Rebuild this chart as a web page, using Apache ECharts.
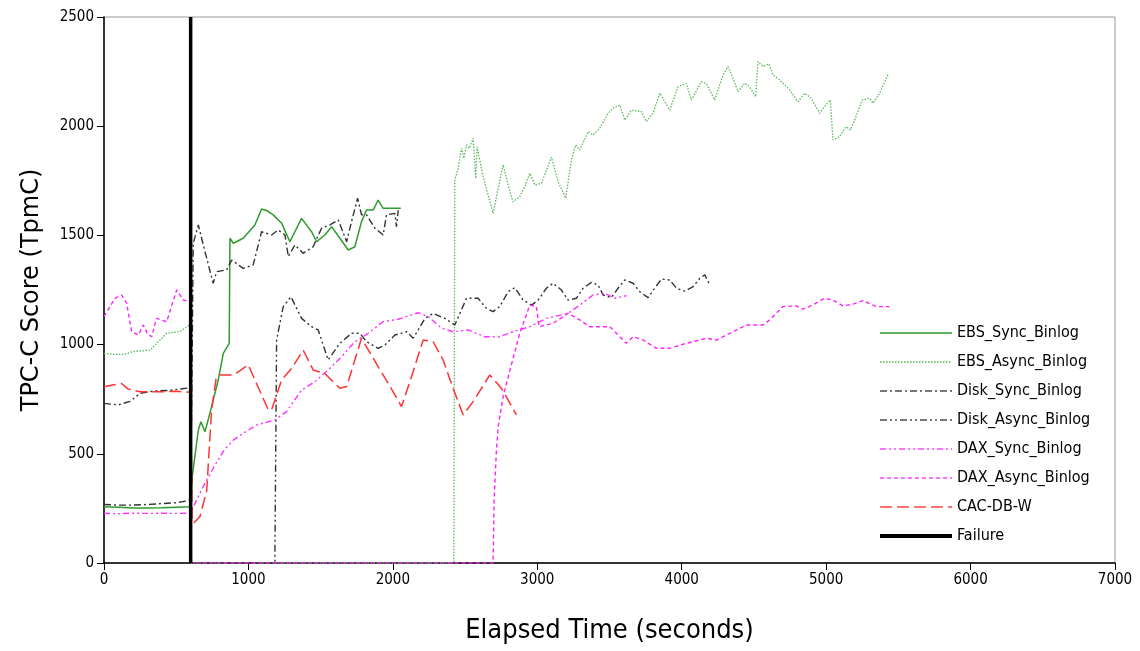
<!DOCTYPE html>
<html>
<head>
<meta charset="utf-8">
<script src="https://cdn.jsdelivr.net/npm/echarts@6/dist/echarts.min.js"></script>
<style>
html,body{margin:0;padding:0;background:#fff;}
#chart{width:1140px;height:651px;}
</style>
</head>
<body>
<div id="chart"></div>
<script>
const xTicks = [0, 1000, 2000, 3000, 4000, 5000, 6000, 7000];
const yTicks = [0, 500, 1000, 1500, 2000, 2500];
const seriesNames = ['EBS_Sync_Binlog','EBS_Async_Binlog','Disk_Sync_Binlog','Disk_Async_Binlog','DAX_Sync_Binlog','DAX_Async_Binlog','CAC-DB-W','Failure'];

const ebsSync = [[0,258],[100,255],[200,252],[300,252],[400,253],[500,255],[600,257],[611,395],[653,609],[671,647],[699,601],[733,685],[791,838],[826,960],[867,1006],[872,1487],[895,1464],[964,1487],[1045,1548],[1091,1621],[1125,1614],[1172,1594],[1230,1556],[1287,1471],[1368,1578],[1437,1517],[1472,1471],[1529,1502],[1576,1540],[1633,1487],[1691,1433],[1737,1448],[1783,1563],[1818,1616],[1864,1616],[1898,1662],[1933,1624],[1990,1624],[2055,1624]];

const ebsAsync = [[0,960],[70,955],[140,955],[200,968],[320,975],[434,1052],[526,1060],[595,1090],[605,0],[2422,0],[2429,1754],[2452,1807],[2475,1899],[2491,1853],[2510,1914],[2529,1899],[2556,1945],[2574,1761],[2583,1906],[2625,1769],[2694,1601],[2763,1823],[2798,1731],[2832,1654],[2879,1677],[2913,1723],[2948,1784],[2983,1731],[3029,1739],[3098,1858],[3144,1746],[3197,1670],[3236,1845],[3266,1914],[3294,1891],[3352,1975],[3386,1960],[3432,1990],[3490,2059],[3524,2082],[3571,2097],[3606,2028],[3652,2074],[3721,2067],[3756,2021],[3802,2059],[3848,2151],[3917,2074],[3975,2181],[4032,2196],[4067,2120],[4136,2204],[4171,2196],[4228,2120],[4286,2235],[4320,2273],[4355,2220],[4390,2158],[4436,2197],[4470,2181],[4512,2135],[4528,2296],[4563,2273],[4604,2285],[4632,2235],[4678,2212],[4747,2166],[4805,2112],[4851,2151],[4897,2128],[4955,2059],[4989,2090],[5029,2120],[5047,1937],[5093,1953],[5139,1998],[5167,1983],[5197,2028],[5250,2120],[5301,2128],[5324,2105],[5370,2151],[5428,2235]];

const diskSync = [[0,268],[100,265],[200,265],[300,268],[400,272],[500,276],[580,285],[600,290],[618,1464],[653,1548],[699,1426],[756,1281],[780,1334],[849,1342],[884,1387],[964,1349],[1033,1365],[1091,1517],[1160,1502],[1206,1525],[1253,1502],[1276,1403],[1322,1456],[1379,1418],[1448,1448],[1506,1533],[1564,1548],[1622,1571],[1680,1471],[1714,1563],[1756,1670],[1783,1594],[1818,1594],[1875,1533],[1933,1502],[1956,1594],[2014,1601],[2025,1540],[2037,1616]];

const diskAsync = [[0,731],[100,724],[180,740],[250,777],[350,788],[450,790],[580,801],[600,800],[605,0],[1183,0],[1195,1021],[1241,1174],[1294,1219],[1368,1120],[1437,1082],[1483,1067],[1552,930],[1633,1006],[1714,1052],[1772,1052],[1818,1013],[1898,983],[1945,998],[2014,1044],[2095,1059],[2141,1029],[2222,1120],[2279,1143],[2360,1120],[2429,1090],[2510,1212],[2590,1212],[2648,1166],[2694,1151],[2740,1174],[2798,1242],[2844,1261],[2902,1204],[2960,1181],[3006,1204],[3063,1258],[3109,1281],[3167,1250],[3213,1204],[3271,1212],[3317,1258],[3375,1285],[3421,1273],[3456,1227],[3513,1215],[3559,1258],[3606,1296],[3663,1281],[3710,1242],[3767,1215],[3813,1258],[3860,1300],[3918,1296],[3963,1258],[4021,1245],[4079,1265],[4125,1304],[4160,1319],[4194,1273]];

const daxSync = [[0,227],[100,226],[200,228],[300,227],[400,228],[500,227],[600,228],[630,273],[664,319],[711,380],[770,450],[837,522],[900,565],[964,594],[1057,632],[1183,655],[1264,693],[1368,792],[1460,830],[1552,884],[1645,945],[1737,1013],[1829,1052],[1933,1105],[2037,1116],[2175,1146],[2245,1128],[2337,1075],[2417,1059],[2521,1067],[2637,1036],[2740,1036],[2832,1059],[2948,1082],[3063,1120],[3213,1143],[3294,1181],[3386,1227],[3467,1235],[3536,1212],[3617,1224]];

const daxAsync = [[0,1128],[76,1212],[122,1227],[157,1189],[192,1059],[237,1044],[272,1090],[300,1050],[330,1036],[364,1120],[434,1105],[503,1250],[549,1204],[595,1196],[605,0],[2694,0],[2701,288],[2717,517],[2729,624],[2763,761],[2787,823],[2879,1053],[2948,1181],[2960,1185],[2994,1174],[3012,1082],[3109,1097],[3213,1143],[3294,1113],[3363,1082],[3502,1082],[3617,1006],[3663,1036],[3733,1021],[3825,983],[3917,983],[4032,1006],[4171,1029],[4240,1021],[4287,1036],[4447,1090],[4563,1090],[4609,1113],[4701,1174],[4793,1177],[4839,1162],[4909,1182],[4989,1212],[5047,1204],[5116,1177],[5186,1185],[5255,1201],[5347,1174],[5439,1174]];

const cacDbW = [[0,807],[60,815],[122,822],[166,797],[250,784],[400,784],[500,786],[600,782],[610,200],[620,182],[664,212],[711,330],[745,700],[775,840],[803,861],[895,861],[940,880],[999,907],[1137,701],[1160,701],[1230,838],[1299,891],[1379,975],[1448,884],[1529,868],[1633,800],[1680,808],[1783,1029],[1898,899],[1968,823],[2060,716],[2129,853],[2210,1021],[2279,1013],[2348,930],[2417,800],[2487,678],[2556,739],[2671,861],[2752,800],[2856,678]];

const failure = [[600,0],[600,2500]];

const chart = echarts.init(document.getElementById('chart'), null, {renderer:'canvas'});
const FONT = '"DejaVu Sans Condensed", "DejaVu Sans", sans-serif';

function mk(name, data, color, width, type, z) {
  return {
    name: name, type: 'line', data: data,
    symbol: 'none', showSymbol: false, smooth: false, z: z || 2,
    lineStyle: {color: color, width: width, type: type},
    itemStyle: {color: color},
    emphasis: {disabled: true}
  };
}

const legendLine = {
  'EBS_Sync_Binlog': {color: '#5fb05f', width: 2},
  'EBS_Async_Binlog': {color: '#7cc57c', width: 2},
  'Disk_Sync_Binlog': {color: '#777777', width: 2},
  'Disk_Async_Binlog': {color: '#777777', width: 2},
  'DAX_Sync_Binlog': {color: '#ff44ff', width: 1.5},
  'DAX_Async_Binlog': {color: '#ff44ff', width: 1.5},
  'CAC-DB-W': {color: '#ff4444', width: 1.5},
  'Failure': {color: '#000000', width: 4}
};

chart.setOption({
  animation: false,
  backgroundColor: '#fff',
  grid: {left: 104, right: 25, top: 17, bottom: 88, show: true, borderColor: '#999', borderWidth: 1},
  xAxis: {
    type: 'value', min: xTicks[0], max: xTicks[xTicks.length-1], interval: 1000,
    name: 'Elapsed Time (seconds)', nameLocation: 'middle', nameGap: 54,
    nameTextStyle: {fontFamily: FONT, fontSize: 27, color: '#000'},
    axisLine: {show: true, lineStyle: {color: '#000', width: 1.5}},
    axisTick: {show: true, length: 7, inside: false, lineStyle: {color: '#000'}},
    axisLabel: {fontFamily: FONT, fontSize: 15, color: '#000', margin: 10, formatter: v => String(v)},
    splitLine: {show: false}
  },
  yAxis: {
    type: 'value', min: yTicks[0], max: yTicks[yTicks.length-1], interval: 500,
    name: 'TPC-C Score (TpmC)', nameLocation: 'middle', nameGap: 60,
    nameTextStyle: {fontFamily: '"DejaVu Sans", sans-serif', fontSize: 24, color: '#000'},
    axisLine: {show: true, lineStyle: {color: '#000', width: 1.5}},
    axisTick: {show: true, length: 7, inside: false, lineStyle: {color: '#000'}},
    axisLabel: {fontFamily: FONT, fontSize: 15, color: '#000', margin: 10, formatter: v => String(v)},
    splitLine: {show: false}
  },
  legend: {
    orient: 'vertical', left: 873, top: 320,
    itemWidth: 72, itemHeight: 16, itemGap: 13,
    itemStyle: {opacity: 0},
    textStyle: {fontFamily: FONT, fontSize: 16, color: '#000'},
    data: seriesNames.map(n => ({name: n, lineStyle: legendLine[n]}))
  },
  series: [
    mk(seriesNames[0], ebsSync, '#2f9a2f', 1.5, 'solid', 3),
    mk(seriesNames[1], ebsAsync, '#5cb85c', 1.3, [1.5, 1.5], 2),
    mk(seriesNames[2], diskSync, '#333333', 1.4, [7, 3, 2, 3], 3),
    mk(seriesNames[3], diskAsync, '#333333', 1.4, [7, 3, 2, 3, 2, 3], 3),
    mk(seriesNames[4], daxSync, '#ff33ff', 1.4, [6, 3, 2, 3, 2, 3], 3),
    mk(seriesNames[5], daxAsync, '#ff22ff', 1.4, [4, 3], 3),
    mk(seriesNames[6], cacDbW, '#ff3333', 1.5, [12, 5], 3),
    mk(seriesNames[7], failure, '#000000', 3.5, 'solid', 5)
  ]
});
</script>
</body>
</html>
